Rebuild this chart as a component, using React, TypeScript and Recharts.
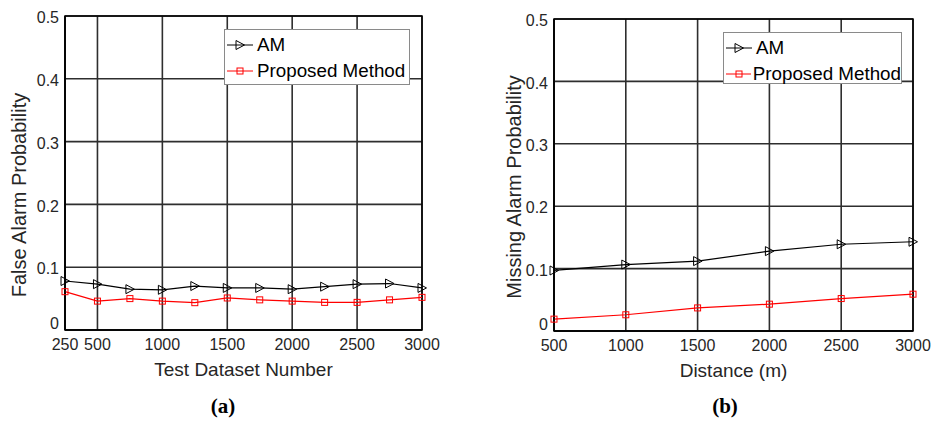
import { CartesianGrid, Legend, Line, LineChart, ReferenceArea, XAxis, YAxis } from "recharts"

// values
const datasetNumbers = [250, 500, 750, 1000, 1250, 1500, 1750, 2000, 2250, 2500, 2750, 3000]
const falseAlarmAM = [0.078, 0.073, 0.065, 0.064, 0.07, 0.067, 0.067, 0.065, 0.069, 0.073, 0.074, 0.067]
const falseAlarmProposed = [0.061, 0.046, 0.05, 0.046, 0.0435, 0.051, 0.048, 0.046, 0.044, 0.044, 0.048, 0.052]

const distances = [500, 1000, 1500, 2000, 2500, 3000]
const missingAlarmAM = [0.097, 0.1065, 0.112, 0.128, 0.139, 0.143]
const missingAlarmProposed = [0.019, 0.026, 0.037, 0.043, 0.052, 0.059]

const yTicks = [0, 0.1, 0.2, 0.3, 0.4, 0.5]
const datasetTicks = [250, 500, 1000, 1500, 2000, 2500, 3000]
const distanceTicks = [500, 1000, 1500, 2000, 2500, 3000]
const seriesNames = ["AM", "Proposed Method"]

const FONT = "Arial, 'Liberation Sans', sans-serif"
const TEXT = "#262626"

function TriangleDot(props: any) {
  const { cx, cy } = props
  if (cx == null || cy == null) return null
  return (
    <polygon
      points={`${cx - 4},${cy - 4.5} ${cx - 4},${cy + 4.5} ${cx + 4.5},${cy}`}
      fill="none"
      stroke="#000"
      strokeWidth={1}
    />
  )
}

function SquareDot(props: any) {
  const { cx, cy } = props
  if (cx == null || cy == null) return null
  return <rect x={cx - 3} y={cy - 3} width={6} height={6} fill="none" stroke="#ff0000" strokeWidth={1} />
}

// y tick labels sit a little low, the zero is lifted clear of the x labels
function YTick(props: any) {
  const { x, y, payload } = props
  const v = payload.value as number
  return (
    <text
      x={x}
      y={y}
      dy={v === 0 ? "-0.05em" : "0.45em"}
      textAnchor="end"
      fontSize={16}
      fontFamily={FONT}
      fill={TEXT}
    >
      {v === 0 ? "0" : v.toFixed(1)}
    </text>
  )
}

function LegendBox({ width, height }: { width: number; height: number }) {
  const row = (i: number) => (
    <div key={i} style={{ display: "flex", alignItems: "center", height: 26 }}>
      <svg width={30} height={14} style={{ marginRight: 2 }}>
        <line x1={2} x2={28} y1={7} y2={7} stroke={i === 0 ? "#000" : "#ff0000"} strokeWidth={1} />
        {i === 0 ? <TriangleDot cx={15} cy={7} /> : <SquareDot cx={15} cy={7} />}
      </svg>
      <span>{seriesNames[i]}</span>
    </div>
  )
  return (
    <div
      style={{
        width,
        height,
        boxSizing: "border-box",
        border: "1px solid #8a8a8a",
        background: "#fff",
        fontFamily: FONT,
        fontSize: 18.8,
        color: "#000",
        paddingTop: 2,
        lineHeight: "20px",
        whiteSpace: "nowrap",
      }}
    >
      {row(0)}
      {row(1)}
    </div>
  )
}

interface AlarmChartProps {
  xs: number[]
  am: number[]
  proposed: number[]
  xTicks: number[]
  xTitle: string
  yTitle: string
  width: number
  marginTop: number
  marginRight: number
  yAxisWidth: number
  yTitleX: number
  yTitleShift: number
  legend: { left: number; top: number; width: number; height: number }
}

function AlarmChart(p: AlarmChartProps) {
  const data = p.xs.map((x, i) => ({ x, am: p.am[i], proposed: p.proposed[i] }))
  const xMin = p.xTicks[0]
  const xMax = p.xTicks[p.xTicks.length - 1]
  const plotBottom = p.marginTop === 16 ? 330 : 331
  const axisHeight = 421 - plotBottom

  return (
    <LineChart
      width={p.width}
      height={421}
      data={data}
      margin={{ top: p.marginTop, right: p.marginRight, bottom: 0, left: 0 }}
    >
      <CartesianGrid stroke="#2e2e2e" strokeWidth={1.6} />
      <XAxis
        dataKey="x"
        type="number"
        domain={[xMin, xMax]}
        ticks={p.xTicks}
        interval={0}
        tickLine={false}
        tickSize={0}
        tickMargin={9}
        height={axisHeight}
        axisLine={{ stroke: "#000", strokeWidth: 1.5 }}
        tick={{ fontSize: 16, fill: TEXT, fontFamily: FONT }}
        label={({ viewBox }: any) => (
          <text
            x={viewBox.x + viewBox.width / 2}
            y={viewBox.y + 46}
            textAnchor="middle"
            fontSize={19}
            fontFamily={FONT}
            fill={TEXT}
          >
            {p.xTitle}
          </text>
        )}
      />
      <YAxis
        type="number"
        domain={[0, 0.5]}
        ticks={yTicks}
        tickLine={false}
        tickSize={0}
        tickMargin={6}
        width={p.yAxisWidth}
        axisLine={{ stroke: "#000", strokeWidth: 1.5 }}
        tick={<YTick />}
        label={({ viewBox }: any) => {
          const cx = p.yTitleX
          const cy = viewBox.y + viewBox.height / 2 + p.yTitleShift
          return (
            <text
              x={cx}
              y={cy}
              transform={`rotate(-90, ${cx}, ${cy})`}
              textAnchor="middle"
              fontSize={20}
              fontFamily={FONT}
              fill={TEXT}
            >
              {p.yTitle}
            </text>
          )
        }}
      />
      <ReferenceArea x1={xMin} x2={xMax} y1={0} y2={0.5} fill="none" stroke="#000" strokeWidth={1.5} />
      <Line
        dataKey="am"
        name={seriesNames[0]}
        stroke="#000"
        strokeWidth={1.2}
        dot={<TriangleDot />}
        isAnimationActive={false}
      />
      <Line
        dataKey="proposed"
        name={seriesNames[1]}
        stroke="#ff0000"
        strokeWidth={1.2}
        dot={<SquareDot />}
        isAnimationActive={false}
      />
      <Legend
        layout="vertical"
        align="center"
        verticalAlign="middle"
        wrapperStyle={{ left: p.legend.left, top: p.legend.top, width: p.legend.width, height: p.legend.height }}
        content={() => <LegendBox width={p.legend.width} height={p.legend.height} />}
      />
    </LineChart>
  )
}

const captionStyle = {
  position: "absolute" as const,
  top: 396,
  width: 60,
  textAlign: "center" as const,
  fontFamily: "'Liberation Serif', 'DejaVu Serif', serif",
  fontWeight: 700,
  fontSize: 21,
  lineHeight: "20px",
  color: "#000",
}

export default function App() {
  return (
    <div style={{ position: "absolute", left: 0, top: 0, width: 933, height: 421, background: "#fff" }}>
      <div style={{ position: "absolute", left: 0, top: 0 }}>
        <AlarmChart
          xs={datasetNumbers}
          am={falseAlarmAM}
          proposed={falseAlarmProposed}
          xTicks={datasetTicks}
          xTitle="Test Dataset Number"
          yTitle="False Alarm Probability"
          width={440}
          marginTop={16}
          marginRight={18}
          yAxisWidth={65}
          yTitleX={26}
          yTitleShift={22}
          legend={{ left: 224, top: 29, width: 186, height: 56 }}
        />
      </div>
      <div style={{ position: "absolute", left: 480, top: 0 }}>
        <AlarmChart
          xs={distances}
          am={missingAlarmAM}
          proposed={missingAlarmProposed}
          xTicks={distanceTicks}
          xTitle="Distance (m)"
          yTitle="Missing Alarm Probability"
          width={453}
          marginTop={19}
          marginRight={20}
          yAxisWidth={74}
          yTitleX={41}
          yTitleShift={12}
          legend={{ left: 243, top: 32, width: 179, height: 52 }}
        />
      </div>
      <div style={{ ...captionStyle, left: 193 }}>(a)</div>
      <div style={{ ...captionStyle, left: 695 }}>(b)</div>
    </div>
  )
}
